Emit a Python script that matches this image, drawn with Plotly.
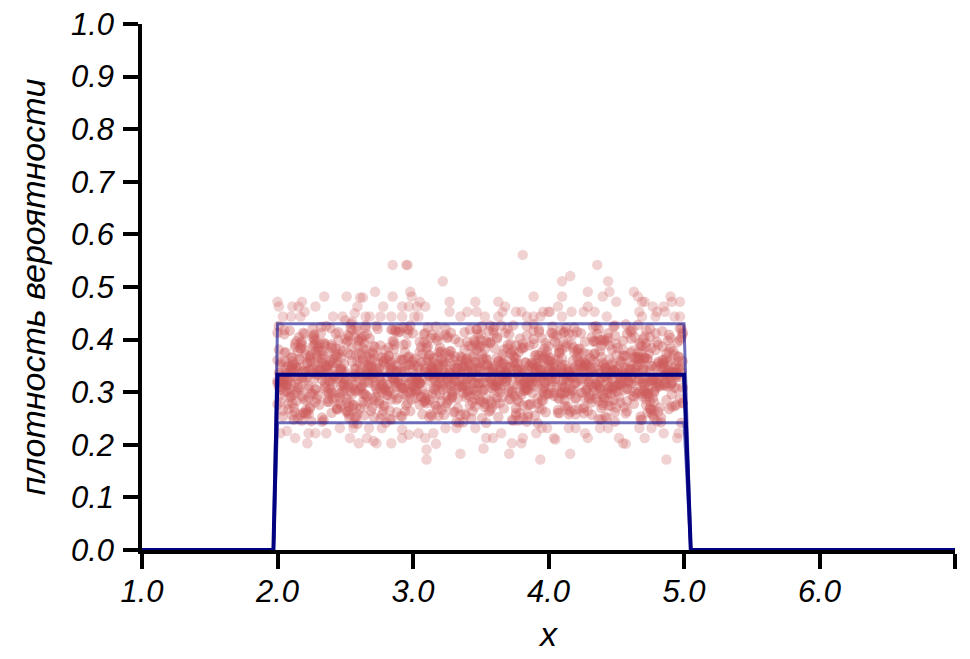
import plotly.graph_objects as go

# ---------------- data ----------------
# density curve (uniform on [2, 5]) and its band
curve_x = [1.0, 1.97, 2.0, 5.0, 5.05, 7.0]
curve_y = [0.0, 0.0, 0.3333, 0.3333, 0.0, 0.0]
band_hi = [0.0, 0.0, 0.43, 0.43, 0.0, 0.0]
band_lo = [0.0, 0.0, 0.242, 0.242, 0.0, 0.0]

# sample points lying outside the band (read individually)
outer_x = [2.85, 2.95, 2.345, 2.51, 2.61, 2.63, 2.72, 2.85, 2.0, 2.01, 2.18, 2.11, 2.155, 2.28, 2.20,
           2.78, 2.92, 2.59, 2.04, 2.10, 2.17, 2.41, 2.48, 2.57, 2.65, 2.68, 2.76, 2.84, 2.92, 2.50, 2.55,
           3.81, 2.96, 3.22, 2.98, 2.99, 3.89, 3.05, 3.09, 3.27, 3.46, 3.63, 3.68, 2.97, 3.03, 3.27, 3.40,
           3.47, 3.66, 3.76, 3.80, 3.96, 4.00, 3.04, 3.01, 3.35, 3.53, 3.63, 3.84, 3.94, 3.89,
           4.36, 4.10, 4.16, 4.44, 4.10, 4.29, 4.40, 4.45, 4.50, 4.63, 4.66, 4.69, 4.71, 4.77, 4.90, 4.91,
           4.97, 4.07, 4.29, 4.85, 4.86, 4.01, 4.17, 4.26, 4.34, 4.67, 4.80, 4.10, 4.43, 4.69, 4.79, 4.93, 4.97,
           2.07, 2.23, 2.28, 2.36, 2.46, 2.56, 2.675, 2.77, 2.92, 2.02, 2.13, 2.535, 2.66, 2.71, 2.92, 2.22,
           2.60, 2.73, 2.84,
           2.97, 3.04, 3.09, 3.15, 3.24, 3.32, 3.46, 3.54, 3.59, 3.65, 3.73, 3.80, 3.81, 3.91, 3.95, 3.10,
           3.17, 3.35, 3.52, 3.71, 3.10, 3.94,
           4.04, 4.05, 4.16, 4.29, 4.27, 4.52, 4.55, 4.57, 4.71, 4.85, 4.95, 4.96, 4.87, 3.99, 4.15, 4.20,
           4.38, 4.44, 4.67, 4.76]
outer_y = [0.542, 0.542, 0.482, 0.482, 0.48, 0.48, 0.491, 0.482, 0.472, 0.463, 0.472, 0.463, 0.463, 0.463, 0.453,
           0.463, 0.463, 0.463, 0.444, 0.444, 0.444, 0.444, 0.444, 0.45, 0.444, 0.444, 0.444, 0.444, 0.444, 0.437, 0.434,
           0.561, 0.542, 0.511, 0.491, 0.482, 0.482, 0.472, 0.463, 0.472, 0.472, 0.472, 0.463, 0.463, 0.463, 0.453, 0.453,
           0.453, 0.453, 0.453, 0.453, 0.453, 0.453, 0.444, 0.444, 0.444, 0.444, 0.444, 0.444, 0.444, 0.444,
           0.542, 0.511, 0.521, 0.511, 0.482, 0.491, 0.482, 0.491, 0.472, 0.491, 0.482, 0.472, 0.472, 0.463, 0.482, 0.472,
           0.472, 0.463, 0.463, 0.463, 0.453, 0.453, 0.453, 0.453, 0.453, 0.453, 0.453, 0.444, 0.444, 0.444, 0.444, 0.444, 0.444,
           0.226, 0.222, 0.222, 0.222, 0.232, 0.232, 0.232, 0.232, 0.229, 0.222, 0.213, 0.213, 0.213, 0.207, 0.213, 0.203,
           0.203, 0.203, 0.203,
           0.219, 0.222, 0.213, 0.222, 0.232, 0.232, 0.232, 0.213, 0.213, 0.222, 0.203, 0.203, 0.213, 0.222, 0.232, 0.191,
           0.202, 0.183, 0.193, 0.183, 0.172, 0.172,
           0.213, 0.210, 0.183, 0.213, 0.222, 0.213, 0.203, 0.202, 0.213, 0.222, 0.213, 0.222, 0.172, 0.232, 0.232, 0.232,
           0.232, 0.232, 0.232, 0.232]

# sample points inside the band: x in hundredths, y in thousandths
core_x100 = [
    203,241,268,305,339,372,398,436,461,494, 217,233,275,291,346,357,404,413,452,489,
    226,248,261,312,328,365,383,427,444,476, 209,255,283,298,341,351,392,419,467,482,
    221,237,272,316,323,377,406,431,449,471, 212,244,264,308,335,362,387,422,458,497,
    201,252,279,294,347,369,401,415,441,486, 228,236,287,302,326,354,395,433,455,478,
    206,258,266,319,331,374,381,426,463,491, 215,231,281,297,344,359,408,411,447,473,
    224,247,270,310,321,367,389,438,469,484, 208,239,285,293,337,352,403,417,450,499,
    219,253,262,314,329,378,384,429,443,475, 204,242,277,300,343,363,397,412,466,488,
    229,234,269,317,325,356,391,435,456,472, 211,257,288,295,348,371,405,421,446,493,
    202,245,263,306,333,358,382,439,460,480, 225,238,280,318,340,366,400,414,453,496,
    213,250,274,292,322,375,393,425,442,477, 207,232,286,311,336,353,386,432,468,485,
    222,256,265,299,345,368,407,418,448,470, 200,243,278,313,327,379,380,437,457,490,
    218,235,271,296,342,360,396,410,465,481, 227,249,284,309,320,373,388,428,445,498,
    210,240,260,315,338,350,402,423,459,474, 214,254,276,290,349,364,385,434,451,487,
    205,230,289,304,324,376,399,416,462,479, 223,251,267,301,330,355,409,430,440,492,
    216,246,282,307,334,370,390,420,454,483, 220,259,273,294,346,361,394,437,467,471,
    209,236,265,318,327,357,383,411,449,495, 226,244,287,298,339,374,404,426,441,478,
    203,257,270,311,321,352,392,433,458,486, 219,233,279,305,347,367,381,415,463,473,
    212,248,262,316,332,379,398,438,446,499, 228,241,284,292,343,359,387,422,469,481,
    206,253,276,309,326,364,406,419,443,490, 215,230,268,303,349,371,395,429,455,476,
    201,255,281,314,335,353,401,412,461,488, 224,239,264,296,322,376,389,435,448,472,
    211,247,288,312,341,362,384,417,466,493, 217,234,271,300,329,355,408,431,452,484,
    207,258,277,319,336,369,391,424,444,479, 222,243,260,307,344,350,397,414,457,497,
    204,250,285,293,323,378,386,439,464,470, 229,237,266,315,338,366,403,420,450,487,
    213,252,280,299,331,372,380,427,442,475, 200,245,274,310,346,358,399,413,468,491,
    218,232,289,304,325,363,393,436,447,482, 225,256,263,317,340,377,405,410,459,498,
    208,240,283,295,328,351,388,432,453,474, 221,249,267,313,345,368,396,418,440,489,
    214,235,278,302,333,360,407,425,465,477, 227,254,261,318,320,375,382,434,456,494,
    202,246,286,291,348,356,400,411,449,483, 216,231,272,308,337,370,390,428,462,471,
    210,259,269,297,324,365,385,437,445,496, 223,242,282,316,342,354,402,416,467,480,
    205,251,275,306,330,373,394,421,451,490, 220,238,264,301,347,361,409,433,458,476,
    212,257,287,312,322,379,383,414,441,485, 228,236,270,294,339,358,397,426,469,473,
    206,244,279,319,334,366,389,438,454,499, 219,253,262,305,343,352,404,419,446,487,
    203,233,284,296,326,374,387,430,460,478, 226,248,273,309,349,363,392,412,443,492,
    209,255,265,314,332,357,406,435,464,470, 215,240,288,299,341,376,381,423,452,481,
    224,246,260,311,325,369,398,417,448,495, 201,231,277,303,338,353,395,431,466,475,
    217,258,268,317,329,371,401,424,457,488, 211,237,283,292,346,360,385,410,442,472,
    229,250,271,307,321,367,408,439,461,497, 204,243,286,315,335,350,391,415,450,484,
    222,234,263,298,344,378,384,427,444,479, 213,256,276,310,327,355,403,420,467,491,
    207,239,281,304,340,364,396,436,455,473, 225,252,266,318,331,372,388,413,463,486,
    200,247,289,293,348,359,400,429,447,498, 218,230,274,313,323,375,393,418,459,477,
    214,254,262,300,336,361,405,434,441,490, 227,241,285,308,345,356,382,422,468,474,
    205,259,270,316,328,368,397,411,453,483, 221,235,278,295,339,373,386,437,445,496,
    210,248,264,312,333,351,407,425,460,471, 216,244,287,302,342,366,390,414,449,489,
    202,251,273,319,324,377,383,432,465,480, 228,232,261,297,347,354,399,419,456,494,
    208,257,282,306,330,362,394,428,443,476, 219,238,269,314,337,370,404,410,462,485,
    223,245,280,291,322,358,389,435,451,499, 206,253,267,309,349,374,381,423,447,472,
    212,236,284,317,334,352,402,416,458,488, 226,249,275,301,343,365,392,439,466,478,
    203,240,288,311,327,379,387,413,444,493, 217,258,263,296,340,360,408,426,454,482,
    211,233,276,305,346,369,395,421,440,475, 224,247,271,318,321,357,384,438,469,497,
    209,255,286,293,338,376,400,412,461,486, 220,242,265,315,332,363,391,430,448,470,
]
core_y1000 = [
    331,287,402,318,256,349,371,297,415,338, 362,244,325,309,391,283,347,422,335,268,
    296,378,341,253,312,427,356,289,320,384, 417,329,265,352,303,372,241,344,393,316,
    339,301,386,277,357,314,408,323,262,365, 248,355,318,395,336,290,326,374,307,421,
    381,313,274,342,420,327,299,258,353,332, 305,426,351,319,284,398,337,311,369,250,
    358,270,334,407,321,246,383,346,292,318, 324,392,294,330,368,341,260,413,326,299,
    272,343,377,289,315,354,429,306,247,361, 350,306,419,362,243,319,338,391,312,280,
    413,281,323,348,300,376,316,264,340,405, 319,365,257,311,387,333,294,352,428,341,
    287,336,348,425,328,263,371,317,304,386, 366,252,311,294,347,410,325,379,336,273,
    334,399,282,357,270,345,302,327,418,311, 245,322,364,313,396,291,352,338,280,359,
    392,308,337,254,332,367,419,299,347,323, 313,424,296,340,361,278,317,405,254,344,
    355,275,381,322,305,338,266,360,310,401, 277,347,316,403,343,321,384,249,369,328,
    328,389,253,366,292,412,335,315,297,358, 408,316,343,285,374,302,347,325,389,242,
    343,261,399,327,259,388,309,352,318,373, 300,371,330,415,317,340,276,397,343,285,
    375,333,289,349,409,256,362,306,328,412, 259,394,321,305,351,330,299,345,275,336,
    346,290,368,258,323,421,340,287,357,313, 322,417,306,376,286,312,355,420,301,366,
    290,351,427,332,378,265,319,334,244,395, 388,267,339,298,320,357,406,271,330,302,
    316,344,271,423,363,304,329,361,411,345, 261,379,353,317,295,381,251,323,367,320,
    353,303,405,336,244,326,393,308,339,279, 399,325,286,361,339,418,314,382,292,355,
    337,258,320,283,405,300,342,266,326,403, 309,386,363,326,355,348,285,339,398,261,
    426,296,314,409,314,272,366,299,351,327, 270,357,393,300,327,389,311,426,285,342,
    345,312,262,371,388,318,244,331,363,309, 383,247,336,343,302,353,376,294,317,416,
    302,370,299,255,366,321,339,412,274,350, 329,411,374,324,281,399,307,344,337,288,
    254,338,327,390,337,246,351,270,404,324, 371,282,410,307,350,333,425,318,302,364,
    318,398,242,358,263,373,295,356,329,270, 413,326,355,279,396,308,333,387,248,339,
    293,363,317,345,309,359,270,314,381,311, 358,241,384,312,343,286,396,337,321,422,
    336,300,302,392,317,426,346,257,360,297, 266,354,349,337,372,320,301,409,296,377,
    397,318,275,301,288,350,362,325,348,256, 325,430,337,367,329,293,320,374,272,332,
    282,345,390,255,410,341,388,296,340,349, 363,276,312,339,299,383,255,353,419,305,
    349,388,264,418,354,311,327,283,310,368, 307,331,370,323,275,364,413,341,364,245,
    418,262,345,291,334,247,343,319,301,383, 260,375,297,351,380,337,298,397,331,321,
    340,305,416,332,311,402,357,267,289,352, 378,349,328,264,363,327,319,350,388,296,
    315,269,380,377,242,356,401,311,322,410, 288,406,309,316,347,281,338,376,274,335,
    357,323,357,420,320,369,278,331,356,265, 404,297,291,296,385,315,363,415,299,378,
    331,359,423,344,306,395,310,288,344,319, 251,384,340,286,341,261,392,346,313,390,
    369,278,304,359,292,336,331,302,425,307, 311,342,366,326,414,352,267,365,336,343,
    394,253,318,403,326,306,349,322,260,358, 279,336,352,308,358,424,304,381,347,287,
    342,401,284,373,283,327,375,248,317,399, 320,289,396,340,368,346,318,336,392,330,
    263,370,331,264,304,282,408,355,306,346, 386,313,250,392,337,361,337,290,367,273,
    333,422,361,318,295,307,284,411,335,362, 298,264,343,353,401,391,355,328,278,315,
    361,347,414,297,330,313,296,372,344,404, 246,381,300,335,257,350,370,304,321,289,
    347,309,373,412,348,278,326,346,400,338, 410,356,327,281,316,416,341,268,354,322,
    324,240,289,344,378,337,312,396,329,252, 284,392,359,328,291,297,389,314,283,367,
    366,328,407,370,345,363,261,358,343,313, 304,367,316,305,419,324,346,273,408,341,
    352,280,346,349,273,355,304,339,311,396, 392,412,269,317,329,288,377,423,370,276,
    268,335,385,386,361,404,323,305,337,326, 339,298,332,255,309,332,293,351,293,361,
    312,373,304,361,352,270,417,316,384,309, 376,251,352,339,287,379,314,383,325,418,
    295,344,419,296,395,318,358,296,264,334, 421,326,279,364,323,343,279,367,351,300,
    326,387,338,322,366,301,329,332,403,371, 257,302,363,411,301,384,381,260,315,333,
    359,364,307,276,356,340,305,342,356,282, 344,273,388,347,266,325,426,399,297,349,
    306,418,324,308,381,365,340,310,375,317, 380,330,295,334,334,253,354,286,340,362,
]

# further sample points inside the band (same units)
core2_x100 = [
    219,246,263,309,344,356,392,428,450,483, 205,237,287,316,322,371,403,414,463,476,
    227,253,270,293,337,362,385,438,447,491, 211,230,279,305,329,378,397,421,458,470,
    223,258,266,312,348,351,381,433,441,497, 200,241,284,297,325,367,408,419,466,487,
    216,249,261,318,340,359,389,426,455,479, 208,235,276,301,333,374,400,410,444,494,
    229,255,282,290,346,353,394,436,469,473, 213,233,268,314,320,369,386,415,452,488,
    202,247,289,307,338,376,405,430,460,481, 225,239,264,296,327,357,383,423,443,499,
    210,257,273,311,343,365,396,412,467,471, 221,232,285,303,331,350,409,437,449,485,
    206,251,260,317,347,372,388,418,457,477, 218,243,278,291,324,363,401,431,440,492,
    228,236,269,308,336,379,382,425,464,474, 201,259,286,299,341,355,398,411,451,489,
    214,245,262,315,328,368,391,434,446,480, 224,231,281,302,349,360,404,420,468,496,
    207,254,274,313,321,373,384,439,454,472, 220,240,267,294,339,352,395,416,442,490,
    212,250,288,310,330,377,407,427,461,478, 226,234,263,319,345,364,380,413,448,484,
    203,256,279,298,326,358,393,432,465,470, 217,238,271,306,342,370,402,422,445,495,
    209,248,283,292,334,354,387,435,456,482, 222,252,265,316,323,375,399,417,462,475,
    204,242,277,300,347,361,390,429,441,498, 229,237,262,312,329,366,406,410,453,486,
    215,258,286,295,337,351,385,438,467,473, 200,244,270,318,325,378,397,424,444,491,
    223,231,280,304,340,357,382,415,459,479, 211,255,266,309,332,372,409,433,450,470,
    227,246,288,291,348,363,392,419,447,488, 206,233,273,315,322,369,400,428,463,476,
    219,251,261,302,344,355,386,412,455,494, 213,240,284,297,335,374,395,437,442,481,
    224,257,275,317,327,359,383,421,469,472, 202,236,268,307,343,367,404,430,449,497,
    218,249,283,293,320,353,389,414,458,484, 208,243,264,314,339,376,398,426,440,478,
    228,230,278,300,331,361,407,418,466,490, 214,254,287,311,346,350,381,434,452,471,
    201,247,260,296,324,371,394,410,445,487, 221,235,272,319,336,365,388,439,461,475,
    210,259,285,305,349,358,403,423,447,499, 226,241,267,290,328,377,384,416,457,480,
    205,252,281,313,341,362,396,431,443,493, 216,238,274,303,333,354,391,427,464,474,
]
core2_y1000 = [
    327,381,296,412,264,338,349,305,371,243, 301,347,418,331,357,286,320,392,337,266,
    389,272,335,308,343,402,259,324,352,317, 256,359,310,377,291,329,366,415,283,345,
    342,423,368,285,317,251,338,301,396,329, 317,298,248,351,403,362,287,348,322,374,
    405,336,354,267,325,315,392,269,340,308, 278,311,389,333,346,427,323,364,299,351,
    352,386,302,420,273,306,341,334,377,261, 330,252,347,296,385,348,276,411,316,398,
    294,366,323,358,312,270,363,289,344,327, 371,319,277,314,336,393,309,357,251,414,
    315,405,341,387,250,339,331,274,362,300, 259,343,398,322,368,283,418,336,308,356,
    348,288,328,274,303,375,299,385,429,323, 396,372,264,343,421,322,347,313,280,339,
    306,327,353,410,330,260,386,344,365,291, 337,259,382,302,356,350,262,323,335,409,
    283,414,312,365,288,413,328,372,297,318, 362,339,295,326,345,297,354,258,388,345,
    320,301,420,258,378,332,308,399,319,276, 411,361,333,349,314,364,376,332,254,360,
    271,325,286,384,262,345,290,350,402,325, 345,394,359,318,399,279,343,317,342,387,
    310,276,307,427,326,319,415,281,367,303, 384,352,372,292,352,390,326,361,310,333,
    298,317,249,340,311,242,355,395,331,271, 355,409,338,305,337,356,297,327,379,420,
    265,334,313,361,419,311,370,308,289,341, 333,287,400,331,294,372,335,346,353,312,
    378,345,320,275,349,303,253,378,325,364, 322,269,361,398,279,341,383,300,412,296,
    290,377,341,324,364,427,318,339,336,380, 351,320,292,346,321,287,346,424,271,343,
    402,298,365,315,390,358,288,316,355,311, 313,356,426,356,305,325,360,351,301,350,
    340,264,308,289,339,395,321,285,381,328, 262,391,345,368,257,314,403,342,344,263,
    366,330,283,335,371,346,337,367,319,393, 304,348,373,305,332,269,299,320,427,337,
    389,313,336,423,295,382,352,301,307,354, 326,383,256,347,360,335,318,375,350,281,
    281,294,357,312,345,320,389,328,375,314, 347,422,326,364,318,409,275,357,290,406,
    319,341,398,280,374,301,344,310,363,332, 372,307,317,338,310,354,330,388,327,269,
    292,358,348,396,340,279,412,335,305,359, 336,316,281,327,413,343,306,263,346,319,
    410,374,330,351,327,366,364,347,398,346, 309,282,369,303,353,329,321,396,338,306,
]

x_ticks = [1, 2, 3, 4, 5, 6, 7]
x_tick_labels = ["1.0", "2.0", "3.0", "4.0", "5.0", "6.0", ""]
y_ticks = [0.0, 0.1, 0.2, 0.3, 0.4, 0.5, 0.6, 0.7, 0.8, 0.9, 1.0]
x_title = "x"
y_title = "плотность вероятности"

# ---------------- figure ----------------
n1 = min(len(core_x100), len(core_y1000))
n2 = min(len(core2_x100), len(core2_y1000))
core_x = [v / 100 for v in core_x100[:n1] + core2_x100[:n2]]
core_y = [v / 1000 for v in core_y1000[:n1] + core2_y1000[:n2]]

font_family = "Liberation Sans, Arial, sans-serif"

fig = go.Figure()
fig.add_trace(go.Scatter(
    x=outer_x, y=outer_y, mode="markers",
    marker=dict(size=10.5, color="rgba(205,92,92,0.28)", line=dict(width=0)),
    hoverinfo="skip", cliponaxis=False,
))
fig.add_trace(go.Scatter(
    x=core_x, y=core_y, mode="markers",
    marker=dict(size=10.5, color="rgba(205,92,92,0.36)", line=dict(width=0)),
    hoverinfo="skip", cliponaxis=False,
))
for band in (band_hi, band_lo):
    fig.add_trace(go.Scatter(
        x=curve_x, y=band, mode="lines",
        line=dict(color="rgba(10,10,140,0.6)", width=3),
        hoverinfo="skip", cliponaxis=False,
    ))
fig.add_trace(go.Scatter(
    x=curve_x, y=curve_y, mode="lines",
    line=dict(color="#000080", width=4),
    hoverinfo="skip", cliponaxis=False,
))

axis_font = dict(family=font_family, size=31, color="black", style="italic")
title_font = dict(family=font_family, size=34, color="black", style="italic")

# the page body adds an 8 px offset, margins compensate for it
fig.update_layout(
    width=970, height=659,
    margin=dict(l=134, r=23, t=16, b=117, autoexpand=False),
    paper_bgcolor="white", plot_bgcolor="white",
    showlegend=False,
)
fig.update_xaxes(
    range=[1, 7], tickvals=x_ticks, ticktext=x_tick_labels,
    showline=True, linecolor="black", linewidth=3.5,
    ticks="outside", ticklen=15, tickwidth=3.5, tickcolor="black",
    showgrid=False, zeroline=False, tickfont=axis_font,
    ticklabelstandoff=-4, ticklabeloverflow="allow",
    title=dict(text=x_title, font=title_font, standoff=15),
    automargin=False,
)
fig.update_yaxes(
    range=[0, 1], tickvals=y_ticks, tickformat=".1f",
    showline=True, linecolor="black", linewidth=3.5,
    ticks="outside", ticklen=15, tickwidth=3.5, tickcolor="black",
    showgrid=False, zeroline=False, tickfont=axis_font,
    ticklabelstandoff=3, ticklabeloverflow="allow",
    title=dict(text=y_title, font=title_font, standoff=16),
    automargin=False,
)

fig.write_html("out.html")
